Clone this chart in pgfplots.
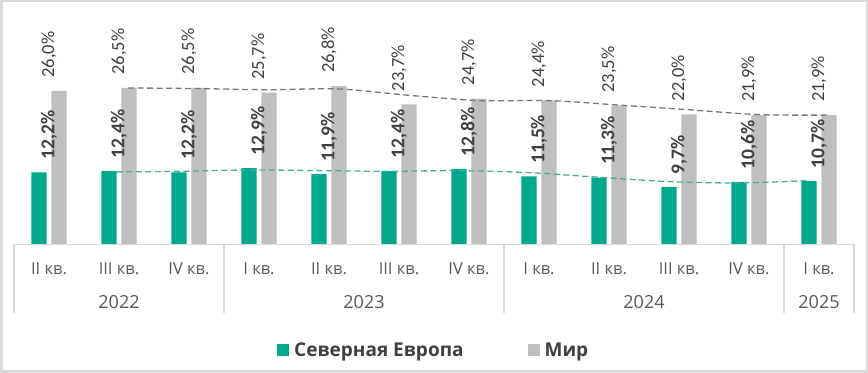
\documentclass[border=0pt]{standalone}
\usepackage{pgfplots}
\pgfplotsset{compat=1.18}
\usepackage{graphicx}
\usepackage{fontspec}
\setmainfont{Carlito}
\newfontfamily\axfont{Open Sans}
\definecolor{sgreen}{RGB}{0,168,140}
\definecolor{sgray}{RGB}{191,191,191}
\definecolor{lblgray}{RGB}{64,64,64}
\definecolor{axgray}{RGB}{89,89,89}
\definecolor{framegray}{RGB}{217,217,217}
\definecolor{lngray}{RGB}{120,120,120}
\definecolor{lngreen}{RGB}{70,175,152}
\begin{document}
\begin{tikzpicture}
\path[use as bounding box] (0bp,0bp) rectangle (868bp,373bp);
\draw[framegray, line width=2.5bp] (1.25bp,1.25bp) rectangle (866.75bp,371.75bp);
\begin{axis}[
  at={(14bp,128.7bp)}, anchor=south west,
  scale only axis, width=840bp, height=236bp,
  xmin=-0.5, xmax=11.5, ymin=0, ymax=40,
  axis line style={draw=none},
  ytick=\empty,
  xtick={0,...,11},
  xticklabels={II кв., III кв., IV кв., I кв., II кв., III кв., IV кв., I кв., II кв., III кв., IV кв., I кв.},
  major tick length=0pt,
  xticklabel style={font=\axfont\fontsize{16.5bp}{18bp}\selectfont, text=axgray, anchor=center, yshift=-24bp},
  clip=false,
  /pgf/number format/assume math mode=true,
  legend style={at={(0.4985,-0.448)}, anchor=center, draw=none, fill=none,
    legend columns=2, font=\axfont\bfseries\fontsize{19bp}{21bp}\selectfont, text=lblgray,
    /tikz/every odd column/.append style={column sep=5bp},
    /tikz/every even column/.append style={column sep=64bp},
    nodes={inner sep=0pt}},
  legend image code/.code={\fill[#1] (0bp,-6bp) rectangle (12bp,6bp);},
]
% Северная Европа
\addplot[ybar, bar width=0.22, bar shift=-0.143, fill=sgreen, draw=none,
  nodes near coords={\rotatebox{90}{\pgfmathprintnumber[fixed,fixed zerofill,precision=1,use comma]{\pgfplotspointmeta}\%}},
  every node near coord/.append style={anchor=south, inner sep=0pt, yshift=12.5bp,
    font=\bfseries\fontsize{19.5bp}{21bp}\selectfont, text=lblgray}]
coordinates {(0,12.2) (1,12.4) (2,12.2) (3,12.9) (4,11.9) (5,12.4) (6,12.8) (7,11.5) (8,11.3) (9,9.7) (10,10.6) (11,10.7)};
\addlegendentry{Северная Европа}
% Мир
\addplot[ybar, bar width=0.22, bar shift=0.143, fill=sgray, draw=none,
  nodes near coords={\rotatebox{90}{\pgfmathprintnumber[fixed,fixed zerofill,precision=1,use comma]{\pgfplotspointmeta}\%}},
  every node near coord/.append style={anchor=south, inner sep=0pt, yshift=13bp,
    font=\fontsize{18.5bp}{20bp}\selectfont, text=lblgray}]
coordinates {(0,26.0) (1,26.5) (2,26.5) (3,25.7) (4,26.8) (5,23.7) (6,24.7) (7,24.4) (8,23.5) (9,22.0) (10,21.9) (11,21.9)};
\addlegendentry{Мир}
% trend lines
\addplot[forget plot, smooth, lngray, line width=1.3bp, dash pattern=on 6bp off 3.5bp]
coordinates {(1.13,26.5) (2.143,26.39) (3.143,26.2) (4.143,26.33) (5.143,25.25) (6.143,24.36) (7.143,24.36) (8.143,23.6) (9.143,22.8) (10.143,21.98) (11.11,21.9)};
\addplot[forget plot, smooth, lngreen, line width=1.3bp, dash pattern=on 6bp off 3.5bp]
coordinates {(0.97,12.27) (1.857,12.37) (2.857,12.6) (3.857,12.49) (4.857,12.37) (5.857,12.49) (6.857,12.15) (7.857,11.36) (8.857,10.63) (9.857,10.4) (10.857,10.8)};
% category frame
\draw[framegray, line width=1.3bp] (axis cs:-0.5,0) -- (axis cs:11.5,0);
\foreach \xx in {-0.5,2.5,6.5,10.5,11.5}{
  \edef\tmp{\noexpand\draw[framegray, line width=1.3bp] (axis cs:\xx,0) -- ([yshift=-68.7bp]axis cs:\xx,0);}\tmp
}
\node[font=\axfont\fontsize{18bp}{20bp}\selectfont, text=axgray] at ([yshift=-57.7bp]axis cs:1,0) {2022};
\node[font=\axfont\fontsize{18bp}{20bp}\selectfont, text=axgray] at ([yshift=-57.7bp]axis cs:4.5,0) {2023};
\node[font=\axfont\fontsize{18bp}{20bp}\selectfont, text=axgray] at ([yshift=-57.7bp]axis cs:8.5,0) {2024};
\node[font=\axfont\fontsize{18bp}{20bp}\selectfont, text=axgray] at ([yshift=-57.7bp]axis cs:11,0) {2025};
\end{axis}
\end{tikzpicture}
\end{document}
